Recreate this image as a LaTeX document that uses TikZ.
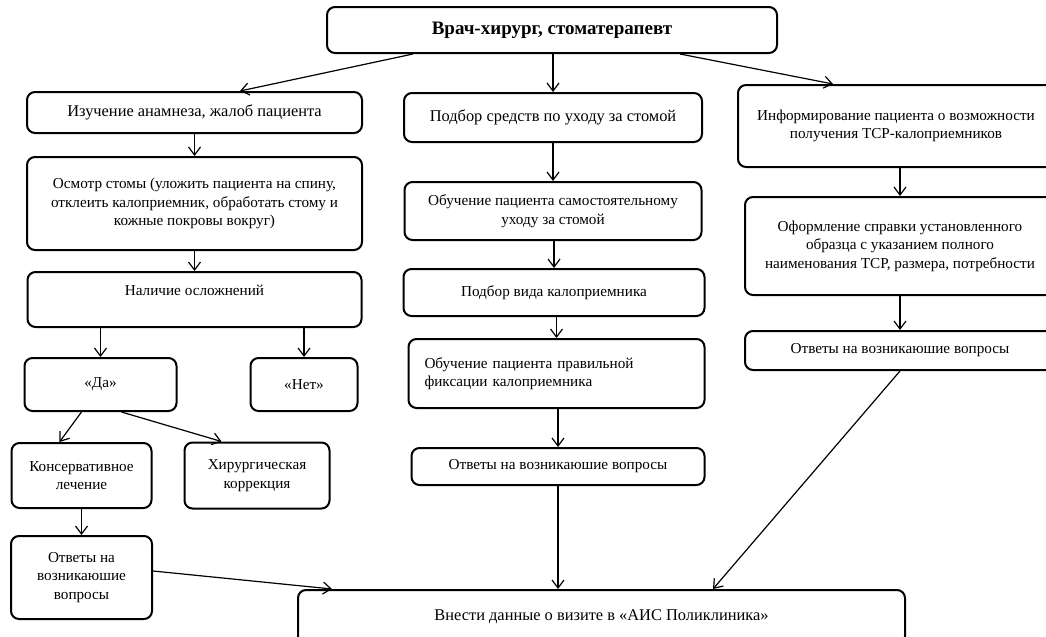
\documentclass[tikz,border=0pt]{standalone}
\usepackage{fontspec}
\setmainfont{Liberation Serif}
\usetikzlibrary{positioning,arrows.meta}

\tikzset{
    box/.style={draw, line width=1pt, rounded corners=4pt, align=center, inner sep=3pt,
        font=\fontsize{7.6}{9.3}\selectfont},
    bigtext/.style={font=\fontsize{8.2}{9.3}\selectfont},
    flow/.style={-{Straight Barb[length=4pt,width=6pt]}, line width=0.6pt},
}

\begin{document}
\begin{tikzpicture}[x=0.5pt, y=-0.5pt]
                    \useasboundingbox (0,0) rectangle (1046,637);

                    \node[box, minimum width=225pt, minimum height=23pt, font=\fontsize{9.5}{11}\selectfont\bfseries] (doc) at (552,30) {Врач-хирург, стоматерапевт};

                    \node[box, bigtext, minimum width=167.5pt, minimum height=20.5pt] (study) at (194.5,112.5) {Изучение анамнеза, жалоб пациента};
                    \node[box, minimum width=167.5pt, minimum height=46.5pt, below=11pt of study] (exam) {Осмотр стомы (уложить пациента на спину,\\ отклеить калоприемник, обработать стому и\\ кожные покровы вокруг)};
                    \node[box, minimum width=167pt, text height=8.5pt, text depth=13pt, below=10pt of exam] (compl) {Наличие осложнений};
                    \node[box, minimum width=76pt, minimum height=26.5pt, below=14.5pt of compl, xshift=-47pt] (yes) {«Да»};
                    \node[box, minimum width=53.5pt, minimum height=26.5pt, right=36pt of yes] (no) {«Нет»};
                    \node[box, minimum width=70pt, minimum height=32.5pt, below=15pt of yes, xshift=-9.5pt] (cons) {Консервативное\\ лечение};
                    \node[box, minimum width=72.5pt, minimum height=33pt, right=15.5pt of cons] (surg) {Хирургическая\\ коррекция};
                    \node[box, minimum width=70.5pt, minimum height=41.5pt, below=13pt of cons] (ansl) {Ответы на\\ возникаюшие\\ вопросы};

                    \node[box, bigtext, minimum width=149pt, minimum height=24.5pt] (care) at (553,117.5) {Подбор средств по уходу за стомой};
                    \node[box, minimum width=148.5pt, minimum height=29pt, below=19pt of care] (self) {Обучение пациента самостоятельному\\ уходу за стомой};
                    \node[box, minimum width=150.5pt, minimum height=23.5pt, below=13.5pt of self, xshift=0.5pt] (kind) {Подбор вида калоприемника};
                    \node[box, minimum height=34.5pt, text width=132pt, inner xsep=8pt, align=left, below=10.5pt of kind, xshift=1.25pt] (fix) {Обучение пациента правильной\\ фиксации калоприемника};
                    \node[box, minimum width=146.5pt, minimum height=18.5pt, below=19pt of fix, xshift=0.75pt] (ansm) {Ответы на возникаюшие вопросы};

                    \node[box, minimum width=158pt, minimum height=41pt] (info) at (896,126) {Информирование пациента о возможности\\ получения ТСР-калоприемников};
                    \node[box, minimum width=155pt, minimum height=49pt, below=14pt of info, xshift=2pt] (cert) {Оформление справки установленного\\ образца с указанием полного\\ наименования ТСР, размера, потребности};
                    \node[box, minimum width=155pt, minimum height=19.5pt, below=17pt of cert] (ansr) {Ответы на возникаюшие вопросы};

                    \node[box, bigtext, minimum width=303.5pt, minimum height=27pt] (visit) at (601.5,617) {Внести данные о визите в «АИС Поликлиника»};

                    \draw[flow] ([xshift=-69.5pt]doc.south) -- ([xshift=22.75pt]study.north);
                    \draw[flow] (care.north |- doc.south) -- (care.north);
                    \draw[flow] ([xshift=64pt]doc.south) -- ([xshift=-31.5pt]info.north);

                    \draw[flow] (study) -- (exam);
                    \draw[flow] (exam) -- (compl);
                    \draw[flow] (yes.north |- compl.south) -- (yes.north);
                    \draw[flow] (no.north |- compl.south) -- (no.north);
                    \draw[flow] ([xshift=-9.5pt]yes.south) -- ([xshift=-11pt]cons.north);
                    \draw[flow] ([xshift=10.5pt]yes.south) -- ([xshift=-17.75pt]surg.north);
                    \draw[flow] (cons) -- (ansl);
                    \draw[flow] ([yshift=3.25pt]ansl.east) -- ([xshift=17.5pt]visit.north west);

                    \draw[flow] (care) -- (self);
                    \draw[flow] (kind.north |- self.south) -- (kind.north);
                    \draw[flow] (fix.north |- kind.south) -- (fix.north);
                    \draw[flow] (ansm.north |- fix.south) -- (ansm.north);
                    \draw[flow] (ansm.south) -- (ansm.south |- visit.north);

                    \draw[flow] (cert.north |- info.south) -- (cert.north);
                    \draw[flow] (cert) -- (ansr);
                    \draw[flow] (ansr.south) -- ([xshift=55.75pt]visit.north);
\end{tikzpicture}
\end{document}
